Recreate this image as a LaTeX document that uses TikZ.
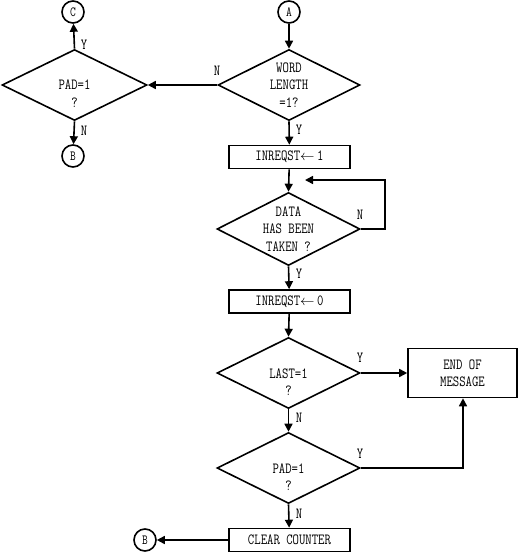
\documentclass[tikz,border=0pt]{standalone}
\usepackage{fontspec}
\newfontfamily\fcfont[FakeStretch=0.8]{Latin Modern Mono}
\usetikzlibrary{shapes.geometric,arrows.meta}
\tikzset{
  base/.style={line width=1.6pt},
  dia/.style={base,draw,shape=diamond,minimum width=142pt,minimum height=71pt,inner sep=0pt},
  procbox/.style={base,draw,rectangle,minimum width=121pt,minimum height=23pt,inner sep=0pt,font=\fcfont\fontsize{15.5}{17}\selectfont},
  conn/.style={base,draw,circle,minimum size=22pt,inner sep=0pt,font=\fcfont\fontsize{14}{15}\selectfont},
  txt/.style={align=center,inner sep=0pt,font=\fcfont\fontsize{15.5}{17.5}\selectfont},
  lbl/.style={inner sep=0pt,font=\fcfont\fontsize{15.5}{15}\selectfont},
  arr/.style={line width=1.6pt,-{Triangle[length=8pt,width=8pt]}},
  ln/.style={line width=1.6pt}
}
\begin{document}
\begin{tikzpicture}[x=1pt,y=-1pt]
\useasboundingbox (0,0) rectangle (518,554);
% connectors
\node[conn] (A) at (289,12) {A};
\node[conn] (C) at (73,12) {C};
\node[conn] (B1) at (73,156) {B};
\node[conn] (B2) at (145,540) {B};
% decisions
\node[dia] (wl) at (289,85) {};
\node[txt] at (wl.center) {WORD\\LENGTH\\=1?};
\node[dia,minimum width=145pt] (pad1) at (74.5,85) {};
\node[txt,yshift=-8.5pt] at (pad1.center) {PAD=1\\?};
\node[dia,minimum width=143pt,minimum height=73pt] (data) at (288.5,229) {};
\node[txt] at (data.center) {DATA\\HAS BEEN\\TAKEN ?};
\node[dia,minimum width=143pt] (last) at (288.5,373) {};
\node[txt,yshift=-9pt] at (last.center) {LAST=1\\?};
\node[dia,minimum width=143pt] (pad2) at (288.5,468) {};
\node[txt,yshift=-9pt] at (pad2.center) {PAD=1\\?};
% process boxes
\node[procbox] (in1) at (289.5,157) {INREQST$\leftarrow$\,1};
\node[procbox] (in0) at (289.5,301.5) {INREQST$\leftarrow$\,0};
\node[procbox] (clr) at (289.5,540) {CLEAR COUNTER};
\node[procbox,minimum width=109pt,minimum height=49pt,align=center,font=\fcfont\fontsize{15.5}{17}\selectfont] (eom) at (462.5,373) {END OF\\MESSAGE};
% coordinates
\coordinate (loopR) at (385,229);
\coordinate (loopT) at (385,180);
\coordinate (loopE) at (305,180);
\coordinate (padR) at (463,468);
% connectors
\draw[arr] (A) -- (wl.north);
\draw[arr] (wl.west) -- (pad1.east);
\draw[arr] (pad1.north) -- (C);
\draw[arr] (pad1.south) -- (B1);
\draw[arr] (wl.south) -- (in1);
\draw[arr] (in1) -- (data.north);
\draw[arr] (data.east) -- (loopR) -- (loopT) -- (loopE);
\draw[arr] (data.south) -- (in0);
\draw[arr] (in0) -- (last.north);
\draw[arr] (last.east) -- (eom.west);
\draw[arr] (last.south) -- (pad2.north);
\draw[arr] (pad2.east) -- (padR) -- (eom.south -| padR);
\draw[arr] (pad2.south) -- (clr);
\draw[arr] (clr) -- (B2);
% labels
\node[lbl] at (84,45) {Y};
\node[lbl] at (84,131) {N};
\node[lbl] at (217,71) {N};
\node[lbl] at (299,130) {Y};
\node[lbl] at (360,215) {N};
\node[lbl] at (299,274) {Y};
\node[lbl] at (360,358) {Y};
\node[lbl] at (299,418) {N};
\node[lbl] at (360,454) {Y};
\node[lbl] at (299,514) {N};
\end{tikzpicture}
\end{document}
